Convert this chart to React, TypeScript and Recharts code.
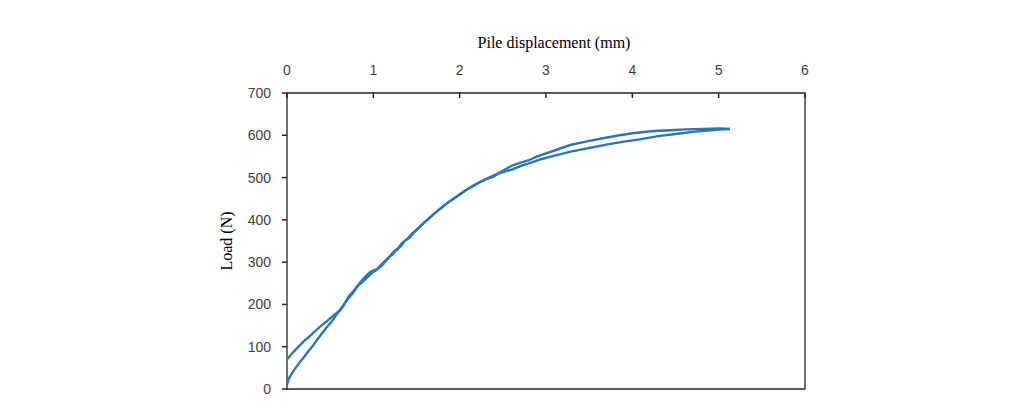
import React from "react";
import {
	LineChart,
	Line,
	XAxis,
	YAxis,
	ReferenceArea,
	Label,
} from "recharts";

// first curve: starts near the origin, sits lower near the peak
const dispA = [
	0, 0.02, 0.06, 0.11, 0.15, 0.19, 0.25, 0.3, 0.34, 0.4, 0.46, 0.52, 0.58,
	0.64, 0.7, 0.76, 0.82, 0.88, 0.92, 0.96, 1.0, 1.04, 1.1, 1.18, 1.22, 1.27,
	1.32, 1.36, 1.42, 1.46, 1.56, 1.66, 1.76, 1.85, 1.95, 2.04, 2.14, 2.24, 2.34,
	2.43, 2.52, 2.62, 2.72, 2.82, 2.95, 3.1, 3.3, 3.5, 3.7, 3.9, 4.1, 4.3, 4.5,
	4.7, 4.9, 5.05, 5.13,
];
const loadA = [
	10, 24, 38, 53, 64, 74, 90, 102, 114, 130, 146, 160, 178, 192, 212, 226, 244,
	254, 262, 270, 277, 282, 296, 312, 318, 330, 338, 350, 358, 368, 388, 406,
	424, 439, 453, 466, 478, 490, 500, 508, 514, 520, 528, 535, 544, 552, 562,
	570, 578, 585, 591, 598, 603, 608, 612, 614, 615,
];

// second curve: starts at about 70 N, sits higher near the peak
const dispB = [
	0, 0.04, 0.1, 0.19, 0.28, 0.38, 0.46, 0.54, 0.6, 0.66, 0.72, 0.78, 0.84, 0.9,
	0.96, 1.02, 1.08, 1.16, 1.24, 1.28, 1.32, 1.4, 1.45, 1.5, 1.6, 1.7, 1.8, 1.9,
	2.0, 2.1, 2.2, 2.3, 2.4, 2.45, 2.5, 2.6, 2.7, 2.8, 2.9, 3.0, 3.1, 3.28, 3.46,
	3.66, 3.85, 4.05, 4.25, 4.44, 4.62, 4.82, 5.0, 5.13,
];
const loadB = [
	70, 80, 93, 112, 128, 147, 160, 174, 184, 200, 220, 234, 250, 264, 276, 282,
	288, 306, 326, 330, 342, 356, 368, 376, 396, 414, 430, 446, 460, 474, 486,
	496, 503, 510, 516, 528, 535, 541, 550, 557, 564, 577, 585, 593, 600, 606,
	610, 612, 614, 615, 616, 615,
];

const xTicks = [0, 1, 2, 3, 4, 5, 6];
const yTicks = [0, 100, 200, 300, 400, 500, 600, 700];

const curveA = dispA.map((d, i) => ({ disp: d, load: loadA[i] }));
const curveB = dispB.map((d, i) => ({ disp: d, load: loadB[i] }));

const blue = "#2E75B6";
const axisColor = "#262626";
const tickFont = { fontFamily: "Liberation Sans", fontSize: 14, fill: "#404040" };
const titleFont = { fontFamily: "Liberation Serif", fontSize: 16, fill: "#000" };

const X_GAP = 18; // axis line to label baseline
const Y_GAP = 16; // axis line to label right edge
const MARK = 5;

// top axis: tick marks point down into the plot
const XTick = (props: any) => {
	const { x, y, payload } = props;
	const axisY = y + X_GAP;
	return (
		<g>
			<line x1={x} x2={x} y1={axisY} y2={axisY + MARK} stroke={axisColor} strokeWidth={1.5} />
			<text x={x} y={y} textAnchor="middle" style={tickFont}>
				{payload.value}
			</text>
		</g>
	);
};

// left axis: tick marks point out of the plot
const YTick = (props: any) => {
	const { x, y, payload } = props;
	const axisX = x + Y_GAP;
	return (
		<g>
			<line x1={axisX - MARK} x2={axisX} y1={y} y2={y} stroke={axisColor} strokeWidth={1.5} />
			<text x={x} y={y} dy={5} textAnchor="end" style={tickFont}>
				{payload.value}
			</text>
		</g>
	);
};

const App = () => {
	return (
		<LineChart
			width={1011}
			height={388}
			margin={{ top: 45, right: 214, bottom: 7, left: 219 }}
		>
			<ReferenceArea
				x1={0}
				x2={6}
				y1={0}
				y2={700}
				fill="none"
				stroke={axisColor}
				strokeWidth={1.3}
				ifOverflow="visible"
			/>
			<XAxis
				type="number"
				dataKey="disp"
				orientation="top"
				height={40}
				domain={[0, 6]}
				ticks={xTicks}
				interval={0}
				allowDataOverflow
				axisLine={false}
				tickLine={false}
				tickSize={0}
				tickMargin={X_GAP}
				tick={<XTick />}
			>
				<Label
					value="Pile displacement (mm)"
					position="top"
					offset={5}
					dx={8}
					style={titleFont}
				/>
			</XAxis>
			<YAxis
				type="number"
				dataKey="load"
				width={60}
				domain={[0, 700]}
				ticks={yTicks}
				interval={0}
				axisLine={false}
				tickLine={false}
				tickSize={0}
				tickMargin={Y_GAP}
				tick={<YTick />}
			>
				<Label
					value="Load (N)"
					position="center"
					angle={-90}
					dx={-31}
					style={titleFont}
				/>
			</YAxis>
			<Line
				data={curveA}
				dataKey="load"
				type="linear"
				stroke={blue}
				strokeWidth={2.4}
				dot={false}
				isAnimationActive={false}
			/>
			<Line
				data={curveB}
				dataKey="load"
				type="linear"
				stroke={blue}
				strokeWidth={2.4}
				dot={false}
				isAnimationActive={false}
			/>
		</LineChart>
	);
};

export default App;
